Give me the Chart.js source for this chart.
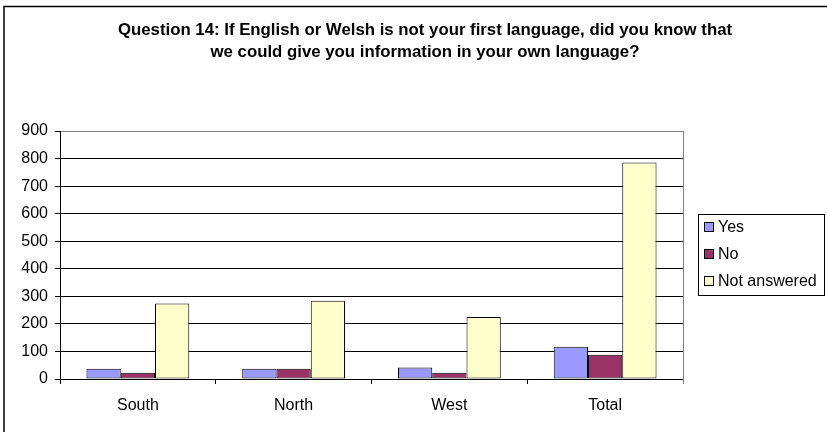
<!DOCTYPE html>
<html>
<head>
<meta charset="utf-8">
<script src="https://cdn.jsdelivr.net/npm/chart.js"></script>
<style>
  html, body { margin: 0; padding: 0; background: #fff; }
  #wrap { width: 827px; height: 432px; }
</style>
</head>
<body>
<div id="wrap"><canvas id="q14Chart" width="827" height="432"></canvas></div>
<script>
const regions = ["South", "North", "West", "Total"];
const yesCounts = [37, 37, 42, 117];
const noCounts = [23, 37, 23, 88];
const notAnswered = [274, 284, 225, 786];
const yTicks = [0, 100, 200, 300, 400, 500, 600, 700, 800, 900];

const titleLines = [
  "Question 14: If English or Welsh is not your first language, did you know that",
  "we could give you information in your own language?"
];

const FONT = "Liberation Sans, Arial, sans-serif";

// outer frame, heading, plot border and the boxed legend on the right
const framePlugin = {
  id: "frame",
  afterDraw(chart) {
    const ctx = chart.ctx;
    const area = chart.chartArea;
    ctx.save();
    ctx.strokeStyle = "#000";
    ctx.lineWidth = 1.5;
    ctx.beginPath();
    ctx.moveTo(4, 440);
    ctx.lineTo(4, 6.5);
    ctx.lineTo(830, 6.5);
    ctx.stroke();

    // heading, two centred lines
    ctx.fillStyle = "#000";
    ctx.font = "bold 16.8px " + FONT;
    ctx.textAlign = "center";
    ctx.textBaseline = "middle";
    titleLines.forEach((line, i) => ctx.fillText(line, 425, 30 + i * 22));

    // right edge of the plot area
    ctx.strokeStyle = "#808080";
    ctx.lineWidth = 1;
    ctx.beginPath();
    ctx.moveTo(Math.round(area.right) + 0.5, area.top);
    ctx.lineTo(Math.round(area.right) + 0.5, area.bottom + 5);
    ctx.stroke();

    // legend
    const sets = chart.data.datasets;
    const lx = area.right + 15, ly = 214, lw = 126, rowH = 27;
    const lh = rowH * sets.length;
    ctx.strokeStyle = "#000";
    ctx.strokeRect(lx + 0.5, ly + 0.5, lw, lh);
    ctx.font = "16px " + FONT;
    ctx.textAlign = "left";
    sets.forEach((ds, i) => {
      const cy = ly + 13 + i * rowH;
      ctx.fillStyle = ds.backgroundColor;
      ctx.fillRect(lx + 6.5, cy - 4.5, 9, 9);
      ctx.strokeRect(lx + 6.5, cy - 4.5, 9, 9);
      ctx.fillStyle = "#000";
      ctx.fillText(ds.label, lx + 20, cy + 1);
    });
    ctx.restore();
  }
};

new Chart(document.getElementById("q14Chart").getContext("2d"), {
  type: "bar",
  data: {
    labels: regions,
    datasets: [
      { label: "Yes", data: yesCounts, backgroundColor: "#9999FF" },
      { label: "No", data: noCounts, backgroundColor: "#993366" },
      { label: "Not answered", data: notAnswered, backgroundColor: "#FFFFCC" }
    ]
  },
  options: {
    responsive: false,
    animation: false,
    devicePixelRatio: 1,
    datasets: {
      bar: {
        borderColor: "#000",
        borderWidth: 1,
        borderSkipped: false,
        categoryPercentage: 0.66,
        barPercentage: 1
      }
    },
    layout: { padding: { left: 0, right: 144, top: 131, bottom: 0 } },
    plugins: {
      legend: { display: false },
      tooltip: { enabled: false },
      title: { display: false }
    },
    scales: {
      x: {
        offset: true,
        afterFit: s => { s.height = 53; },
        grid: {
          offset: true,
          drawOnChartArea: false,
          drawTicks: true,
          tickLength: 5,
          color: "#000"
        },
        border: { color: "#000", width: 1 },
        ticks: {
          color: "#000",
          padding: 12,
          font: { family: FONT, size: 16 }
        }
      },
      y: {
        min: 0,
        max: 900,
        afterFit: s => { s.width = 60; },
        afterBuildTicks: s => { s.ticks = yTicks.map(v => ({ value: v })); },
        grid: {
          color: c => (c.tick && c.tick.value === 900 ? "#808080" : "#000"),
          tickLength: 5,
          tickColor: "#000"
        },
        border: { color: "#000", width: 1 },
        ticks: {
          color: "#000",
          padding: 7,
          font: { family: FONT, size: 16 }
        }
      }
    }
  },
  plugins: [framePlugin]
});
</script>
</body>
</html>
